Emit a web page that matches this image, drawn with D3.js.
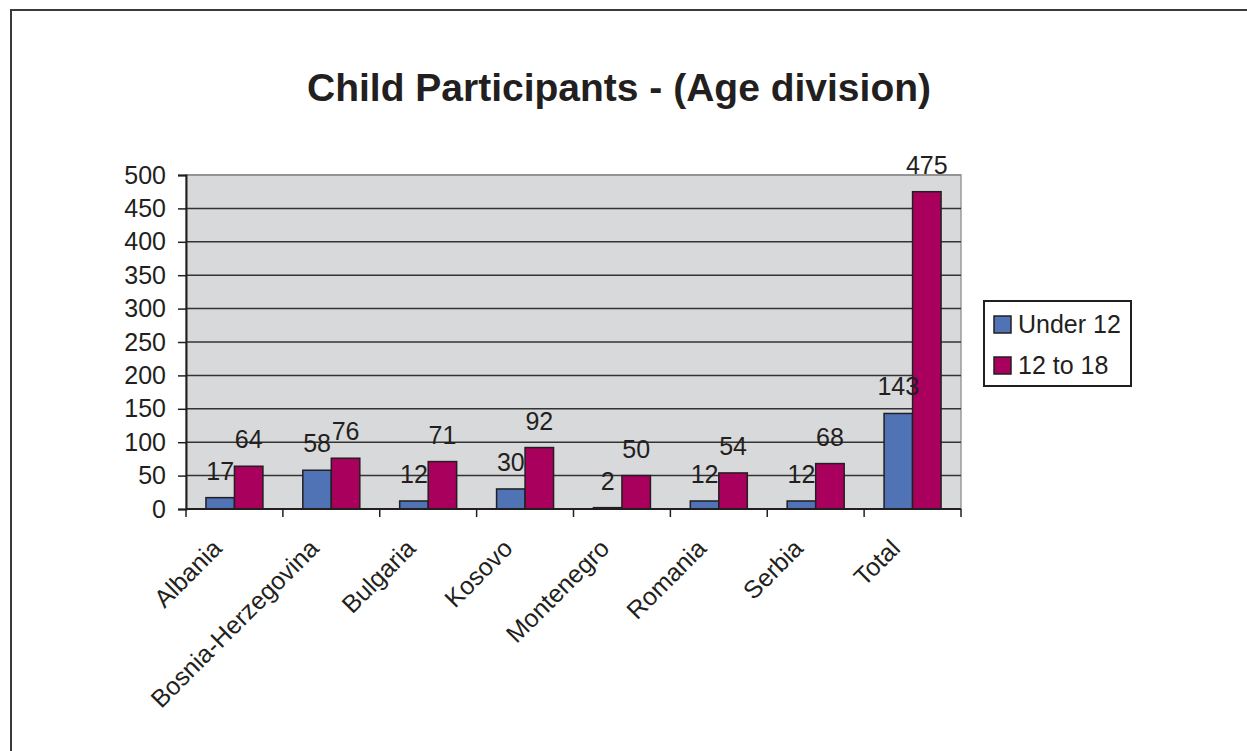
<!DOCTYPE html>
<html>
<head>
<meta charset="utf-8">
<script src="https://d3js.org/d3.v7.min.js"></script>
<style>
  body { margin: 0; background: #fff; }
  text { font-family: "Liberation Sans", Arial, sans-serif; fill: #231f20; }
</style>
</head>
<body>
<div id="chart"></div>
<script>
// chart data
const categories = ["Albania", "Bosnia-Herzegovina", "Bulgaria", "Kosovo", "Montenegro", "Romania", "Serbia", "Total"];
const seriesNames = ["Under 12", "12 to 18"];
const under12 = [17, 58, 12, 30, 2, 12, 12, 143];
const age12to18 = [64, 76, 71, 92, 50, 54, 68, 475];
const yTicks = [0, 50, 100, 150, 200, 250, 300, 350, 400, 450, 500];
const colors = ["#5073b5", "#a8005c"];

const W = 1247, H = 751;
const plot = { left: 186, top: 175, right: 961, bottom: 509 };

const svg = d3.select("#chart")
    .append("svg")
    .attr("width", W)
    .attr("height", H);

// outer frame (only left and top edges fall inside the picture)
svg.append("path")
    .attr("d", `M11,${H} L11,10 L${W},10`)
    .attr("fill", "none")
    .attr("stroke", "#3a3a3a")
    .attr("stroke-width", 2);

// title
svg.append("text")
    .attr("x", 619)
    .attr("y", 101)
    .attr("text-anchor", "middle")
    .style("font-size", "39px")
    .style("font-weight", "bold")
    .text("Child Participants - (Age division)");

// scales
const x0 = d3.scaleBand()
    .domain(categories)
    .range([plot.left, plot.right]);

const x1 = d3.scaleBand()
    .domain(seriesNames)
    .range([0, x0.bandwidth()])
    .paddingOuter(0.7);

const y = d3.scaleLinear()
    .domain([0, 500])
    .range([plot.bottom, plot.top]);

// plot background
svg.append("rect")
    .attr("x", plot.left)
    .attr("y", plot.top)
    .attr("width", plot.right - plot.left)
    .attr("height", plot.bottom - plot.top)
    .attr("fill", "#d8d9db")
    .attr("stroke", "#9a9a9a")
    .attr("stroke-width", 1.5);

// gridlines
svg.append("g")
    .selectAll("line")
    .data(yTicks.filter(d => d > 0))
    .join("line")
    .attr("x1", plot.left)
    .attr("x2", plot.right)
    .attr("y1", d => y(d))
    .attr("y2", d => y(d))
    .attr("stroke", d => d === 500 ? "#8a8a8a" : "#333")
    .attr("stroke-width", 1.5);

// y axis
const yAxis = svg.append("g")
    .attr("transform", `translate(${plot.left},0)`)
    .call(d3.axisLeft(y).tickValues(yTicks).tickSize(8).tickPadding(12));
yAxis.select(".domain").attr("stroke", "#231f20").attr("stroke-width", 2);
yAxis.selectAll(".tick line").attr("stroke", "#231f20").attr("stroke-width", 1.5);
yAxis.selectAll(".tick text")
    .style("font-size", "25px")
    .style("font-family", "'Liberation Sans', Arial, sans-serif")
    .attr("fill", "#231f20");

// bars
const rows = categories.map((c, i) => ({ cat: c, values: [under12[i], age12to18[i]] }));

const groups = svg.append("g")
    .selectAll("g")
    .data(rows)
    .join("g")
    .attr("transform", d => `translate(${x0(d.cat)},0)`);

groups.selectAll("rect")
    .data(d => d.values.map((v, k) => ({ key: seriesNames[k], value: v, k: k })))
    .join("rect")
    .attr("x", d => x1(d.key))
    .attr("y", d => y(d.value))
    .attr("width", x1.bandwidth())
    .attr("height", d => y(0) - y(d.value))
    .attr("fill", d => colors[d.k])
    .attr("stroke", "#231f20")
    .attr("stroke-width", 1.5);

// data labels
groups.selectAll("text")
    .data(d => d.values.map((v, k) => ({ key: seriesNames[k], value: v })))
    .join("text")
    .attr("x", d => x1(d.key) + x1.bandwidth() / 2)
    .attr("y", d => y(d.value) - 18)
    .attr("text-anchor", "middle")
    .style("font-size", "25px")
    .text(d => d.value);

// x axis line and ticks at category boundaries
const xAxis = svg.append("g");
xAxis.append("line")
    .attr("x1", plot.left)
    .attr("x2", plot.right)
    .attr("y1", plot.bottom)
    .attr("y2", plot.bottom)
    .attr("stroke", "#231f20")
    .attr("stroke-width", 2);
const boundaries = categories.map(c => x0(c)).concat([plot.right]);
xAxis.selectAll(".xt")
    .data(boundaries)
    .join("line")
    .attr("class", "xt")
    .attr("x1", d => d)
    .attr("x2", d => d)
    .attr("y1", plot.bottom)
    .attr("y2", plot.bottom + 8)
    .attr("stroke", "#231f20")
    .attr("stroke-width", 1.5);

// rotated category labels
xAxis.selectAll("text")
    .data(categories)
    .join("text")
    .attr("text-anchor", "end")
    .attr("transform", d => `translate(${x0(d) + x0.bandwidth() / 2 - 11},${plot.bottom + 41}) rotate(-45)`)
    .style("font-size", "25px")
    .text(d => d);

// legend
const legend = svg.append("g").attr("transform", "translate(984,301)");
legend.append("rect")
    .attr("width", 147)
    .attr("height", 85)
    .attr("fill", "#fff")
    .attr("stroke", "#231f20")
    .attr("stroke-width", 2);
const items = legend.selectAll("g")
    .data(seriesNames)
    .join("g")
    .attr("transform", (d, i) => `translate(10,${15 + i * 41})`);
items.append("rect")
    .attr("width", 17)
    .attr("height", 17)
    .attr("fill", (d, i) => colors[i])
    .attr("stroke", "#231f20")
    .attr("stroke-width", 1.5);
items.append("text")
    .attr("x", 24)
    .attr("y", 17)
    .style("font-size", "25px")
    .text(d => d);
</script>
</body>
</html>
